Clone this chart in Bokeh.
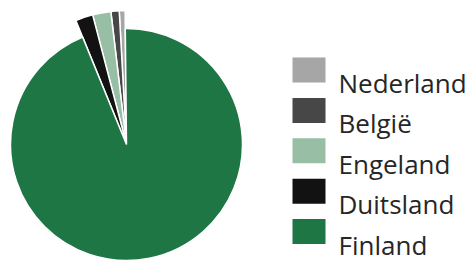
import math
from bokeh.plotting import figure
from bokeh.models import Range1d, ColumnDataSource
from bokeh.core.properties import value
from bokeh.embed import file_html
from bokeh.resources import INLINE

# ---- data ----
countries = ["Nederland", "België", "Engeland", "Duitsland", "Finland"]
shares = [0.7, 1.0, 2.2, 2.1, 94.0]
colors = ["#a6a6a6", "#474747", "#98bfa6", "#121212", "#1f7645"]

# ---- layout / style ----
W, H = 470, 262
cx, cy = 126, 118
r_main = 116
r_small = 134
start_offset = 90.6  # degrees

p = figure(width=W, height=H, output_backend="svg", toolbar_location=None,
           x_range=Range1d(0, W), y_range=Range1d(0, H), min_border=0,
           outline_line_color=None)
p.axis.visible = False
p.grid.visible = False
p.background_fill_color = "white"
p.border_fill_color = "white"

total = sum(shares)
starts, ends, radii = [], [], []
a = start_offset
for c, s in zip(countries, shares):
    span = s / total * 360.0
    starts.append(math.radians(a))
    ends.append(math.radians(a + span))
    radii.append(r_main if c == "Finland" else r_small)
    a += span

src = ColumnDataSource(dict(start=starts, end=ends, r=radii, color=colors,
                            x=[cx] * len(countries), y=[cy] * len(countries)))
p.wedge(x="x", y="y", radius="r", start_angle="start", end_angle="end",
        fill_color="color", line_color="white", line_width=1.5, source=src)

# legend drawn manually
sw_x0, sw_w, sw_h = 292, 33, 25
row0_top = H - 57  # data y of first swatch top
step = 40.4
lx, ly, tx, ty = [], [], [], []
for i, c in enumerate(countries):
    top = row0_top - i * step
    lx.append(sw_x0 + sw_w / 2)
    ly.append(top - sw_h / 2)
    tx.append(338)
    ty.append(top - sw_h - 0.5)

p.rect(x=lx, y=ly, width=sw_w, height=sw_h, fill_color=colors,
       line_color=None)
p.text(x=tx, y=ty, text=countries, text_font=value("Open Sans"),
       text_font_size="26px", text_color="#262626",
       text_baseline="alphabetic", text_align="left")

open("out.html", "w").write(file_html(p, INLINE))
